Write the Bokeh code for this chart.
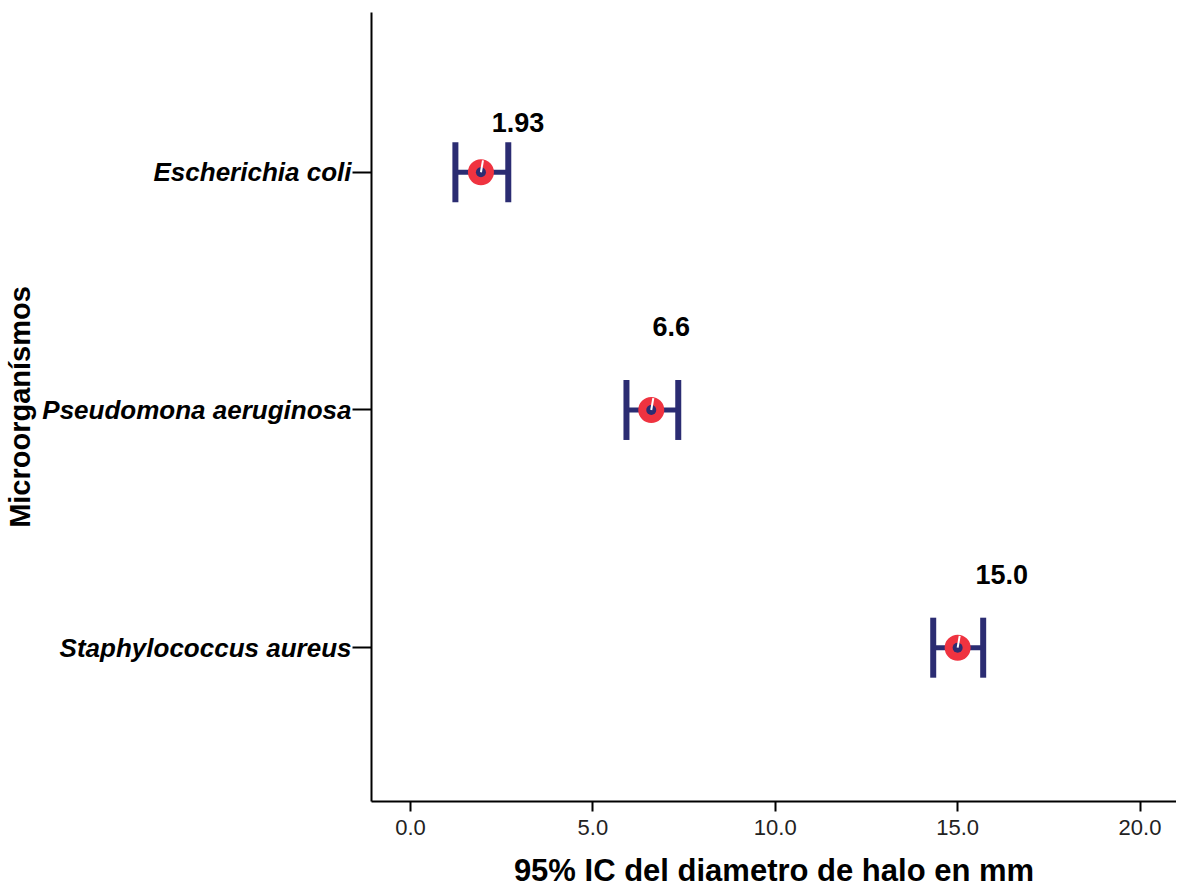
from bokeh.plotting import figure
from bokeh.models import Range1d, ColumnDataSource, FixedTicker
from bokeh.embed import file_html
from bokeh.resources import INLINE
from bokeh.core.properties import value

categories = ["Escherichia coli", "Pseudomona aeruginosa", "Staphylococcus aureus"]
means = [1.93, 6.6, 15.0]
lower = [1.23, 5.92, 14.33]
upper = [2.68, 7.34, 15.70]
mean_labels = ["1.93", "6.6", "15.0"]
x_ticks = [0, 5, 10, 15, 20]

ypos = [1, 2, 3]
src = ColumnDataSource(dict(
    y=ypos, m=means, lo=lower, hi=upper, lab=mean_labels,
    xo=[37, 20, 44], yo=[-50, -83, -73],
))

p = figure(width=1176, height=890, output_backend="svg", toolbar_location=None,
           x_range=Range1d(-1.07, 21.0), y_range=Range1d(3.647, 0.328),
           min_border_left=371, min_border_right=0, min_border_top=12, min_border_bottom=88)
p.outline_line_color = None
p.xgrid.visible = False
p.ygrid.visible = False
p.background_fill_color = "white"
p.border_fill_color = "white"

navy = "#2b2c72"
red = "#ef3340"

# whiskers
p.segment(x0="lo", x1="hi", y0="y", y1="y", source=src, line_color=navy, line_width=5)
# caps
p.rect(x="lo", y="y", width=6, height=60, width_units="screen", height_units="screen",
       source=src, fill_color=navy, line_color=None)
p.rect(x="hi", y="y", width=6, height=60, width_units="screen", height_units="screen",
       source=src, fill_color=navy, line_color=None)
# mean markers
p.scatter(x="m", y="y", source=src, size=26, fill_color=red, line_color=None)
p.scatter(x="m", y="y", source=src, size=10, fill_color=navy, line_color=None)
p.ray(x="m", y="y", source=src, length=12, length_units="screen", angle=1.4,
      line_color="white", line_width=2)

p.text(x="m", y="y", text="lab", source=src, x_offset="xo", y_offset="yo",
       text_align="center", text_baseline="middle", text_font=value("Liberation Sans"),
       text_font_style="bold", text_font_size="27px", text_color="black")

xa = p.xaxis[0]
xa.ticker = FixedTicker(ticks=x_ticks)
xa.major_label_overrides = {t: f"{t:.1f}" for t in x_ticks}
xa.minor_tick_line_color = None
xa.major_tick_in = 0
xa.major_tick_out = 10
xa.major_tick_line_width = 2
xa.axis_line_width = 2
xa.axis_line_color = "black"
xa.major_tick_line_color = "black"
xa.major_label_text_font = "Liberation Sans"
xa.major_label_text_font_size = "22px"
xa.major_label_text_color = "#222222"
xa.major_label_standoff = 8
xa.axis_label = "95% IC del diametro de halo en mm"
xa.axis_label_text_font = "Liberation Sans"
xa.axis_label_text_font_style = "bold"
xa.axis_label_text_font_size = "31px"
xa.axis_label_text_color = "black"
xa.axis_label_standoff = 15

ya = p.yaxis[0]
ya.ticker = FixedTicker(ticks=ypos)
ya.major_label_overrides = {y: c for y, c in zip(ypos, categories)}
ya.minor_tick_line_color = None
ya.major_tick_in = 0
ya.major_tick_out = 19
ya.major_tick_line_width = 2
ya.axis_line_width = 2
ya.axis_line_color = "black"
ya.major_tick_line_color = "black"
ya.major_label_text_font = "Liberation Sans"
ya.major_label_text_font_style = "bold italic"
ya.major_label_text_font_size = "26px"
ya.major_label_text_color = "black"
ya.major_label_standoff = 1
ya.axis_label = "Microorganísmos"
ya.axis_label_text_font = "Liberation Sans"
ya.axis_label_text_font_style = "bold"
ya.axis_label_text_font_size = "29px"
ya.axis_label_text_color = "black"
ya.axis_label_standoff = 3

open("out.html", "w").write(file_html(p, INLINE))
